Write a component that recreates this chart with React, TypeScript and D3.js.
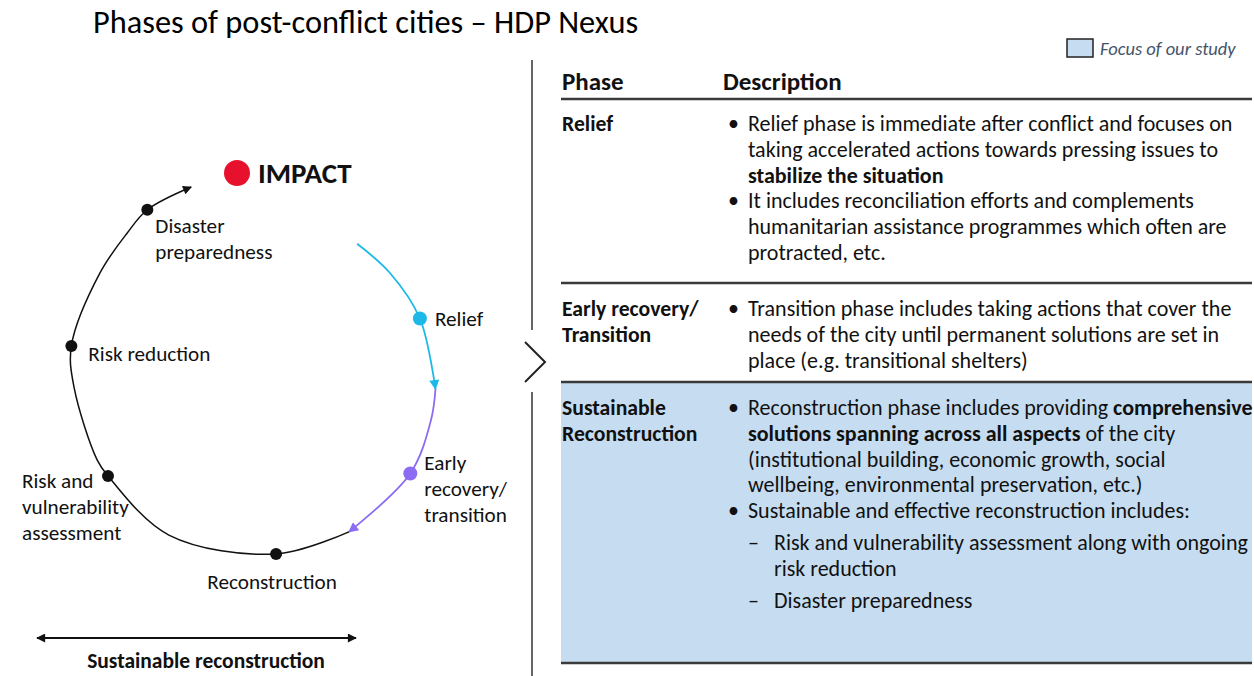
import React from "react";
import * as d3 from "d3";

// ---------- content ----------
const TITLE = "Phases of post-conflict cities – HDP Nexus";
const LEGEND_LABEL = "Focus of our study";
const IMPACT_LABEL = "IMPACT";
const AXIS_LABEL = "Sustainable reconstruction";

// cycle arcs: angle (deg, clockwise from 12 o'clock) and radius (px) of control points
const reliefArcAngles = [39.5, 54.1, 71.7, 94.3];
const reliefArcRadii = [170, 174, 180, 187];
const transitionArcAngles = [94.3, 103.8, 121.4, 147.5];
const transitionArcRadii = [187, 187.5, 189, 186];
const reconstructionArcAngles = [147.5, 171.4, 206.6, 234.4, 240.8, 266, 279.3, 304.4, 319.3, 328.4, 342.9];
const reconstructionArcRadii = [186, 181, 179, 173.4, 174, 175.4, 180, 180.6, 187, 194, 196.7];

// stages on the cycle
const stageNames = [
  "Relief",
  "Early\nrecovery/\ntransition",
  "Reconstruction",
  "Risk and\nvulnerability\nassessment",
  "Risk reduction",
  "Disaster\npreparedness",
];
const stageAngles = [71.7, 121.4, 171.4, 234.4, 279.3, 328.4];
const stageRadii = [180, 189, 181, 173.4, 180, 194];
const stageKinds = ["relief", "transition", "base", "base", "base", "base"];

// table
const tableHeaders = ["Phase", "Description"];
const tablePhases = ["Relief", "Early recovery/\nTransition", "Sustainable\nReconstruction"];
const tableFocus = [false, false, true];
type Seg = { t: string; b?: boolean };
type Line = { kind: "bullet" | "dash" | "cont" | "dashcont"; segs: Seg[] };
const reliefLines: Line[] = [
  { kind: "bullet", segs: [{ t: "Relief phase is immediate after conflict and focuses on" }] },
  { kind: "cont", segs: [{ t: "taking accelerated actions towards pressing issues to" }] },
  { kind: "cont", segs: [{ t: "stabilize the situation", b: true }] },
  { kind: "bullet", segs: [{ t: "It includes reconciliation efforts and complements" }] },
  { kind: "cont", segs: [{ t: "humanitarian assistance programmes which often are" }] },
  { kind: "cont", segs: [{ t: "protracted, etc." }] },
];
const transitionLines: Line[] = [
  { kind: "bullet", segs: [{ t: "Transition phase includes taking actions that cover the" }] },
  { kind: "cont", segs: [{ t: "needs of the city until permanent solutions are set in" }] },
  { kind: "cont", segs: [{ t: "place (e.g. transitional shelters)" }] },
];
const reconstructionLines: Line[] = [
  { kind: "bullet", segs: [{ t: "Reconstruction phase includes providing " }, { t: "comprehensive", b: true }] },
  { kind: "cont", segs: [{ t: "solutions spanning across all aspects", b: true }, { t: " of the city" }] },
  { kind: "cont", segs: [{ t: "(institutional building, economic growth, social" }] },
  { kind: "cont", segs: [{ t: "wellbeing, environmental preservation, etc.)" }] },
  { kind: "bullet", segs: [{ t: "Sustainable and effective reconstruction includes:" }] },
  { kind: "dash", segs: [{ t: "Risk and vulnerability assessment along with ongoing" }] },
  { kind: "dashcont", segs: [{ t: "risk reduction" }] },
  { kind: "dash", segs: [{ t: "Disaster preparedness" }] },
];
const tableLines = [reliefLines, transitionLines, reconstructionLines];

// ---------- layout / style ----------
const W = 1254;
const H = 676;
const FONT = "Carlito, Lato, 'Noto Sans', sans-serif";
const CX = 249;
const CY = 375;
const COLORS = { relief: "#1cb9e8", transition: "#8b6cf2", base: "#111111", impact: "#e8112d", focus: "#c6ddf1", legendText: "#44546a", rule: "#3a3a3a" };
const SIZES = { title: 32.4, legend: 18.5, stage: 21.2, impact: 29, axis: 21.5, header: 25, phase: 21.7, body: 22 };

// label placement relative to dot: dx, dy (first baseline), anchor
const labelLayout = [
  { dx: 15, dy: 8, anchor: "start" },
  { dx: 14, dy: -3, anchor: "start" },
  { dx: -4, dy: 35, anchor: "middle" },
  { dx: -86, dy: 12, anchor: "start" },
  { dx: 17, dy: 15, anchor: "start" },
  { dx: 8, dy: 23, anchor: "start" },
];

const TABLE = { x0: 561, x1: 1252, headerBase: 90, headerRule: 99, rowRules: [283, 382, 663], rowFirstBase: [131, 316, 415], lineH: 25.8, phaseX: 562, bulletX: 728, textX: 748, dashX: 748, dashTextX: 774 };

const rad = (d: number) => (d * Math.PI) / 180;

function arcPath(angles: number[], radii: number[]) {
  const pts = angles.map((a, i) => [rad(a), radii[i]] as [number, number]);
  return d3
    .lineRadial<[number, number]>()
    .angle((d) => d[0])
    .radius((d) => d[1])
    .curve(d3.curveCatmullRom.alpha(0.5))(pts) as string;
}

function Marker({ id, color, w = 12, h = 10 }: { id: string; color: string; w?: number; h?: number }) {
  return (
    <marker id={id} viewBox="0 0 10 10" refX={9} refY={5} markerWidth={w} markerHeight={h} markerUnits="userSpaceOnUse" orient="auto-start-reverse">
      <path d="M0,0 L10,5 L0,10 z" fill={color} />
    </marker>
  );
}

export default function App() {
  const dots = stageAngles.map((a, i) => {
    const [x, y] = d3.pointRadial(rad(a), stageRadii[i]);
    return { x: CX + x, y: CY + y, kind: stageKinds[i], name: stageNames[i], lay: labelLayout[i] };
  });

  const linesBase = (kind: string) => (kind === "dash" || kind === "dashcont" ? TABLE.dashTextX : TABLE.textX);

  return (
    <svg width={W} height={H} style={{ position: "absolute", left: 0, top: 0, background: "#fff" }} fontFamily={FONT}>
      <defs>
        <Marker id="m-relief" color={COLORS.relief} w={11} h={10} />
        <Marker id="m-transition" color={COLORS.transition} w={11} h={10} />
        <Marker id="m-base" color={COLORS.base} w={11} h={9} />
      </defs>

      {/* title */}
      <text x={93} y={33} fontSize={SIZES.title} fill="#000">{TITLE}</text>

      {/* legend */}
      <rect x={1067} y={39} width={26} height={18} fill={COLORS.focus} stroke="#222" strokeWidth={1.5} />
      <text x={1100} y={55} fontSize={SIZES.legend} fontStyle="italic" fill={COLORS.legendText}>{LEGEND_LABEL}</text>

      {/* cycle */}
      <g transform={`translate(${CX},${CY})`} fill="none">
        <path d={arcPath(reliefArcAngles, reliefArcRadii)} stroke={COLORS.relief} strokeWidth={1.8} markerEnd="url(#m-relief)" />
        <path d={arcPath(transitionArcAngles, transitionArcRadii)} stroke={COLORS.transition} strokeWidth={1.8} markerEnd="url(#m-transition)" />
        <path d={arcPath(reconstructionArcAngles, reconstructionArcRadii)} stroke={COLORS.base} strokeWidth={1.5} markerEnd="url(#m-base)" />
      </g>
      {dots.map((d, i) => (
        <g key={i}>
          <circle cx={d.x} cy={d.y} r={d.kind === "base" ? 6 : 7} fill={(COLORS as any)[d.kind]} />
          <text x={d.x + d.lay.dx} y={d.y + d.lay.dy} fontSize={SIZES.stage} textAnchor={d.lay.anchor} fill="#111">
            {d.name.split("\n").map((l, j) => (
              <tspan key={j} x={d.x + d.lay.dx} dy={j === 0 ? 0 : 25.8}>{l}</tspan>
            ))}
          </text>
        </g>
      ))}

      {/* impact */}
      <circle cx={237} cy={173} r={13} fill={COLORS.impact} />
      <text x={258} y={183} fontSize={SIZES.impact} fontWeight="bold" fill="#111">{IMPACT_LABEL}</text>

      {/* sustainable reconstruction axis */}
      <line x1={37} x2={356} y1={638} y2={638} stroke="#111" strokeWidth={2} markerStart="url(#m-base)" markerEnd="url(#m-base)" />
      <text x={206} y={668} fontSize={SIZES.axis} fontWeight="bold" textAnchor="middle" fill="#111">{AXIS_LABEL}</text>

      {/* divider with chevron */}
      <line x1={532} x2={532} y1={60} y2={330} stroke="#333" strokeWidth={1.5} />
      <line x1={532} x2={532} y1={392} y2={676} stroke="#333" strokeWidth={1.5} />
      <polyline points="525,342 545,362 525,382" fill="none" stroke="#222" strokeWidth={2} />

      {/* table */}
      {tableFocus.map((f, i) =>
        f ? <rect key={i} x={TABLE.x0} y={TABLE.rowRules[i - 1]} width={TABLE.x1 - TABLE.x0} height={TABLE.rowRules[i] - TABLE.rowRules[i - 1]} fill={COLORS.focus} /> : null
      )}
      <text x={TABLE.phaseX} y={TABLE.headerBase} fontSize={SIZES.header} fontWeight="bold" fill="#111">{tableHeaders[0]}</text>
      <text x={723} y={TABLE.headerBase} fontSize={SIZES.header} fontWeight="bold" fill="#111">{tableHeaders[1]}</text>
      {[TABLE.headerRule, ...TABLE.rowRules].map((y, i) => (
        <line key={i} x1={TABLE.x0} x2={TABLE.x1} y1={y} y2={y} stroke={COLORS.rule} strokeWidth={2.6} />
      ))}
      {tablePhases.map((p, i) => (
        <g key={i}>
          <text x={TABLE.phaseX} y={TABLE.rowFirstBase[i]} fontSize={SIZES.phase} fontWeight="bold" fill="#111">
            {p.split("\n").map((l, j) => (
              <tspan key={j} x={TABLE.phaseX} dy={j === 0 ? 0 : TABLE.lineH}>{l}</tspan>
            ))}
          </text>
          {(() => {
            let y = TABLE.rowFirstBase[i];
            return tableLines[i].map((ln, j) => {
              if (j > 0) y += ln.kind === "dash" ? TABLE.lineH + 6 : TABLE.lineH;
              return (
                <g key={j}>
                  {ln.kind === "bullet" && <text x={TABLE.bulletX} y={y} fontSize={SIZES.body} fill="#111">•</text>}
                  {ln.kind === "dash" && <text x={TABLE.dashX} y={y} fontSize={SIZES.body} fill="#111">–</text>}
                  <text x={linesBase(ln.kind)} y={y} fontSize={SIZES.body} fill="#111">
                    {ln.segs.map((s, k) => (
                      <tspan key={k} fontWeight={s.b ? "bold" : "normal"}>{s.t}</tspan>
                    ))}
                  </text>
                </g>
              );
            });
          })()}
        </g>
      ))}
    </svg>
  );
}
